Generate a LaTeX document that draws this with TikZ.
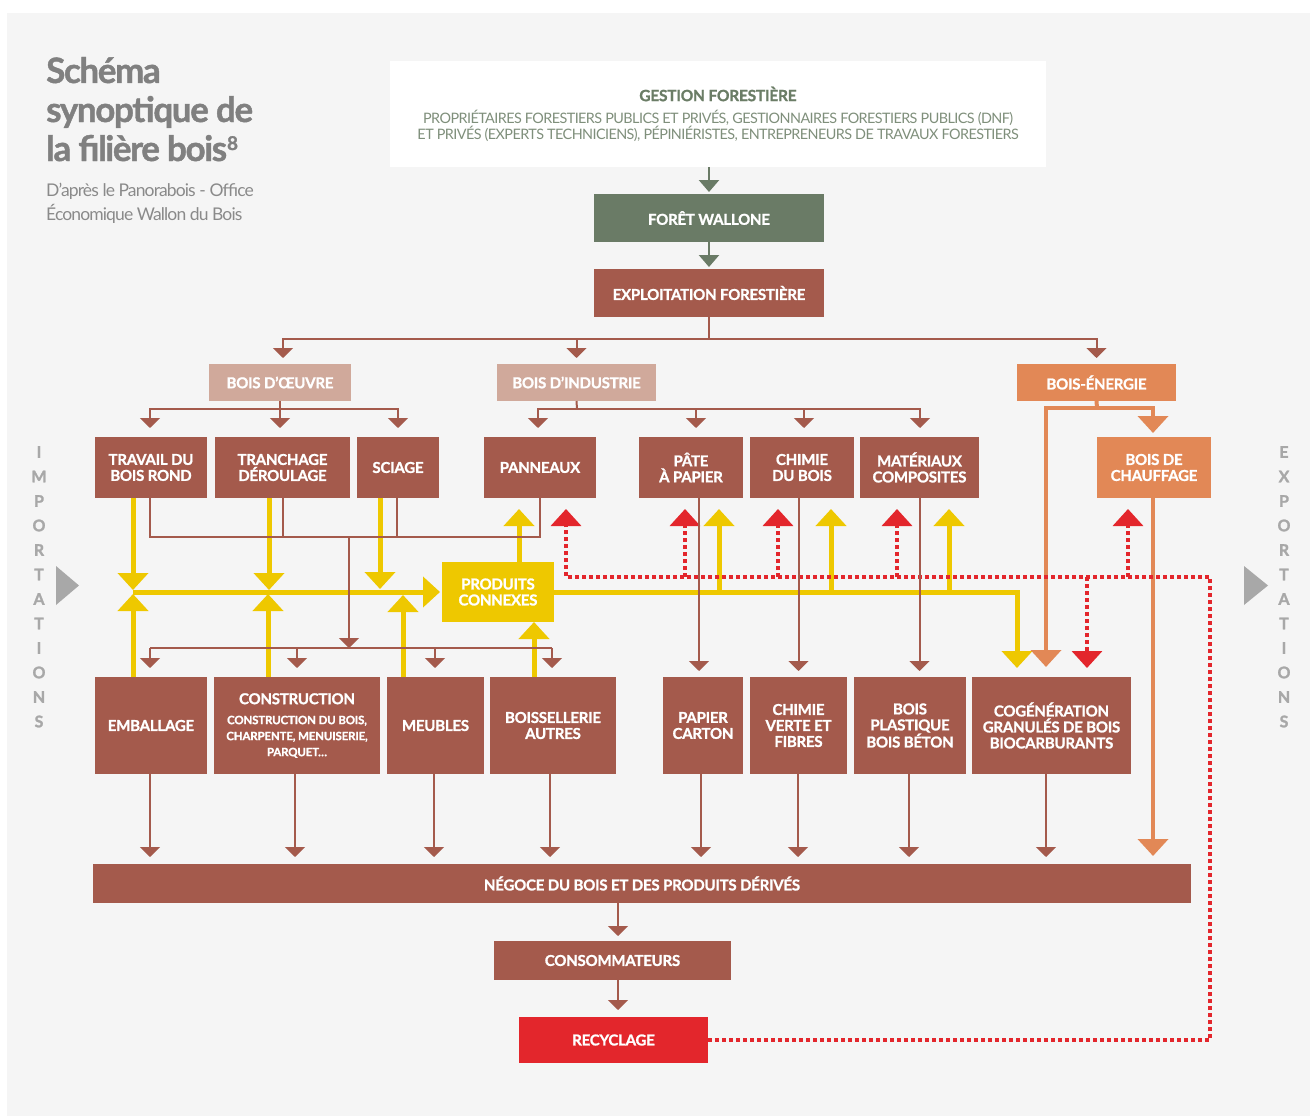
\documentclass[tikz,border=0pt]{standalone}
\usepackage{fontspec}
\setmainfont{Lato}
\newfontfamily\boxfont[LetterSpace=-1.5, BoldFeatures={FakeBold=1.2}]{Lato}
\newfontfamily\titlefont[LetterSpace=-4, BoldFeatures={FakeBold=1.2}]{Lato}
\newfontfamily\subfont[LetterSpace=-5]{Lato}
\newfontfamily\gestfont[LetterSpace=-4]{Lato}
\newfontfamily\sidefont[BoldFeatures={FakeBold=1.5}]{Lato}
\usetikzlibrary{arrows.meta}
\definecolor{cbrown}{HTML}{A45A4C}
\definecolor{cpink}{HTML}{D0A99B}
\definecolor{corange}{HTML}{E28856}
\definecolor{cgreen}{HTML}{6A7B66}
\definecolor{cgreentext}{HTML}{6B7D66}
\definecolor{cgreenlight}{HTML}{7F8F7B}
\definecolor{cyellow}{HTML}{EEC800}
\definecolor{cred}{HTML}{E3262C}
\definecolor{cgray}{HTML}{A8A8A8}
\definecolor{ctitle}{HTML}{808080}
\definecolor{csub}{HTML}{8A8A8A}
\definecolor{cbg}{HTML}{F5F5F5}
\newcommand{\cstsmall}[1]{{\fontsize{11.5}{16}\selectfont #1}}
\tikzset{
  box/.style={draw=none, fill=cbrown, text=white, font=\boxfont\bfseries\fontsize{15}{16}\selectfont, align=center, inner sep=0pt, outer sep=0pt},
  pinkbox/.style={box, fill=cpink},
  orangebox/.style={box, fill=corange},
  greenbox/.style={box, fill=cgreen},
  yellowbox/.style={box, fill=cyellow},
  redbox/.style={box, fill=cred},
  bl/.style={draw=cbrown, line width=2pt},
  ba/.style={bl, -{Triangle[width=20pt,length=10pt]}},
  yl/.style={draw=cyellow, line width=5pt},
  ya/.style={yl, -{Triangle[width=30pt,length=17pt]}},
  rl/.style={draw=cred, line width=3.5pt, dash pattern=on 4pt off 3pt},
  ra/.style={rl, -{Triangle[width=30pt,length=17pt]}},
  ol/.style={draw=corange, line width=4pt},
  oa/.style={ol, -{Triangle[width=30pt,length=17pt]}},
  ga/.style={draw=cgreen, line width=2.5pt, -{Triangle[width=20pt,length=12pt]}},
  sidelet/.style={text=cgray, font=\sidefont\bfseries\fontsize{16}{16}\selectfont, inner sep=0pt},
  titletext/.style={anchor=base west, inner sep=0pt, text=ctitle, font=\titlefont\bfseries\fontsize{35}{39}\selectfont},
  subtext/.style={anchor=base west, inner sep=0pt, text=csub, font=\subfont\fontsize{17.5}{24}\selectfont},
}
\begin{document}
\begin{tikzpicture}[x=1pt,y=-1pt]
\useasboundingbox (0,0) rectangle (1310,1116);
\fill[white] (0,0) rectangle (1310,1116);
\fill[cbg] (7,13) rectangle (1310,1116);

% title
\node[titletext] (t1) at (46,83) {Schéma};
\node[titletext] (t2) at (46,122) {synoptique de};
\node[titletext] (t3) at (46,161) {la filière bois\raisebox{11pt}{\fontsize{19}{19}\selectfont 8}};
\node[subtext] (s1) at (46,196) {D’après le Panorabois - Office};
\node[subtext] (s2) at (46,220) {Économique Wallon du Bois};

% side labels
\foreach \l [count=\i from 0] in {I,M,P,O,R,T,A,T,I,O,N,S}
  \node[sidelet] (imp\i) at (39,452+\i*24.5) {\l};
\foreach \l [count=\i from 0] in {E,X,P,O,R,T,A,T,I,O,N,S}
  \node[sidelet] (exp\i) at (1284,452+\i*24.5) {\l};
\fill[cgray] (56,566) -- (79,585.5) -- (56,605) -- cycle;
\fill[cgray] (1244,566) -- (1268,585.5) -- (1244,605) -- cycle;

% gestion
\node[fill=white, minimum width=656pt, minimum height=106pt, inner sep=0pt] (gest) at (718,114) {};
\node[text=cgreentext, font=\boxfont\bfseries\fontsize{15.5}{16}\selectfont, inner sep=0pt] (gestT) at (718,94) {GESTION FORESTIÈRE};
\node[text=cgreenlight, font=\gestfont\fontsize{14.4}{16}\selectfont, align=center, inner sep=0pt] (gestS) at (718,126) {PROPRIÉTAIRES FORESTIERS PUBLICS ET PRIVÉS, GESTIONNAIRES FORESTIERS PUBLICS (DNF)\\ET PRIVÉS (EXPERTS TECHNICIENS), PÉPINIÉRISTES, ENTREPRENEURS DE TRAVAUX FORESTIERS};

% boxes
\node[greenbox, minimum width=230pt, minimum height=48pt] (foret) at (709,218) {FORÊT WALLONE};
\node[box, minimum width=230pt, minimum height=48pt] (expl) at (709,293) {EXPLOITATION FORESTIÈRE};
\node[pinkbox, minimum width=142pt, minimum height=37pt] (boeuvre) at (280,382.5) {BOIS D’ŒUVRE};
\node[pinkbox, minimum width=159pt, minimum height=37pt] (bind) at (576.5,382.5) {BOIS D’INDUSTRIE};
\node[orangebox, minimum width=159pt, minimum height=37pt] (benerg) at (1096.5,382.5) {BOIS-ÉNERGIE};

\node[box, minimum width=112pt, minimum height=61pt] (travail) at (151,467.5) {TRAVAIL DU\\BOIS ROND};
\node[box, minimum width=135pt, minimum height=61pt] (tranch) at (282.5,467.5) {TRANCHAGE\\DÉROULAGE};
\node[box, minimum width=82pt, minimum height=61pt] (sciage) at (398,467.5) {SCIAGE};
\node[box, minimum width=112pt, minimum height=61pt] (pann) at (540,467.5) {PANNEAUX};
\node[box, minimum width=104pt, minimum height=61pt] (pate) at (691,467.5) {PÂTE\\À PAPIER};
\node[box, minimum width=104pt, minimum height=61pt] (chimie) at (802,467.5) {CHIMIE\\DU BOIS};
\node[box, minimum width=119pt, minimum height=61pt] (mater) at (919.5,467.5) {MATÉRIAUX\\COMPOSITES};
\node[orangebox, minimum width=114pt, minimum height=61pt] (chauff) at (1154,467.5) {BOIS DE\\CHAUFFAGE};

\node[yellowbox, minimum width=112pt, minimum height=60pt] (connexes) at (498,592) {PRODUITS\\CONNEXES};

\node[box, minimum width=112pt, minimum height=97pt] (emball) at (151,725.5) {EMBALLAGE};
\node[box, minimum width=166pt, minimum height=97pt] (constr) at (297,725.5) {CONSTRUCTION\\[4pt]\cstsmall{CONSTRUCTION DU BOIS,}\\\cstsmall{CHARPENTE, MENUISERIE,}\\\cstsmall{PARQUET…}};
\node[box, minimum width=97pt, minimum height=97pt] (meubles) at (435.5,725.5) {MEUBLES};
\node[box, minimum width=126pt, minimum height=97pt] (boiss) at (553,725.5) {BOISSELLERIE\\AUTRES};
\node[box, minimum width=80pt, minimum height=97pt] (papier) at (703,725.5) {PAPIER\\CARTON};
\node[box, minimum width=97pt, minimum height=97pt] (chverte) at (798.5,725.5) {CHIMIE\\VERTE ET\\FIBRES};
\node[box, minimum width=112pt, minimum height=97pt] (plast) at (910,725.5) {BOIS\\PLASTIQUE\\BOIS BÉTON};
\node[box, minimum width=159pt, minimum height=97pt] (cogen) at (1051.5,725.5) {COGÉNÉRATION\\GRANULÉS DE BOIS\\BIOCARBURANTS};

\node[box, minimum width=1098pt, minimum height=39pt] (negoce) at (642,883.5) {NÉGOCE DU BOIS ET DES PRODUITS DÉRIVÉS};
\node[box, minimum width=237pt, minimum height=39pt] (conso) at (612.5,960.5) {CONSOMMATEURS};
\node[redbox, minimum width=189pt, minimum height=46pt] (recyc) at (613.5,1040) {RECYCLAGE};

% green
\draw[ga, shorten >=2pt] (gest.south -| foret.north) -- (foret.north);
\draw[ga, shorten >=2pt] (foret.south) -- (expl.north);

% yellow
\coordinate (yL) at (133,592);
\draw[ya, shorten >=2pt] (yL) -- (connexes.west);
\draw[ya, shorten >=2pt] ([xshift=-18pt]travail.south) -- ([xshift=-18pt]travail.south |- yL);
\draw[ya, shorten >=2pt] ([xshift=-18pt]emball.north) -- ([xshift=-18pt]emball.north |- yL);
\draw[ya, shorten >=2pt] ([xshift=-13.5pt]tranch.south) -- ([xshift=-13.5pt]tranch.south |- yL);
\draw[ya, shorten >=2pt] ([xshift=-29pt]constr.north) -- ([xshift=-29pt]constr.north |- yL);
\draw[ya, shorten >=3pt] ([xshift=-18pt]sciage.south) -- ([xshift=-18pt]sciage.south |- yL);
\draw[ya, shorten >=3pt] ([xshift=-32.5pt]meubles.north) -- ([xshift=-32.5pt]meubles.north |- yL);
\draw[ya] ([xshift=-19pt]boiss.north) -- ([xshift=-19pt]boiss.north |- connexes.south);
\draw[ya, shorten >=11pt] ([xshift=21pt]connexes.north) -- ([xshift=21pt]connexes.north |- pann.south);
\draw[ya, shorten >=9pt] (connexes.east) -| ([xshift=-34.5pt]cogen.north);
\draw[ya, shorten >=11pt] ([xshift=28pt]pate.south |- connexes.east) -- ([xshift=28pt]pate.south);
\draw[ya, shorten >=11pt] ([xshift=29pt]chimie.south |- connexes.east) -- ([xshift=29pt]chimie.south);
\draw[ya, shorten >=11pt] ([xshift=29.5pt]mater.south |- connexes.east) -- ([xshift=29.5pt]mater.south);

% orange
\coordinate (o1) at (1097,408);
\draw[ol] (benerg.south) -- (o1);
\draw[oa, shorten >=4pt] (o1) -| ([xshift=-1pt]chauff.north);
\draw[oa, shorten >=10pt] (o1) -| ([xshift=-5.5pt]cogen.north);
\draw[oa, shorten >=8pt] ([xshift=-1pt]chauff.south) -- ([xshift=-1pt]chauff.south |- negoce.north);

% red dotted
\coordinate (r1) at (1210,1040);
\coordinate (r2) at (1210,577);
\coordinate (r3) at (566,577);
\draw[ra, shorten >=11pt] (recyc.east) -- (r1) -- (r2) -- (r3) -- (r3 |- pann.south);
\draw[ra, shorten >=11pt] ([xshift=-6pt]pate.south |- r3) -- ([xshift=-6pt]pate.south);
\draw[ra, shorten >=11pt] ([xshift=-24pt]chimie.south |- r3) -- ([xshift=-24pt]chimie.south);
\draw[ra, shorten >=11pt] ([xshift=-22.5pt]mater.south |- r3) -- ([xshift=-22.5pt]mater.south);
\draw[ra, shorten >=11pt] ([xshift=-26pt]chauff.south |- r3) -- ([xshift=-26pt]chauff.south);
\draw[ra, shorten >=9pt] ([xshift=35.5pt]cogen.north |- r3) -- ([xshift=35.5pt]cogen.north);

% brown
\coordinate (e1) at (709,339);
\draw[bl] (expl.south) -- (e1);
\draw[ba, shorten >=6pt] (e1) -| ([xshift=3pt]boeuvre.north);
\draw[ba, shorten >=6pt] (e1) -| (bind.north);
\draw[ba, shorten >=6pt] (e1) -| (benerg.north);

\coordinate (b1) at (280,409);
\draw[bl] (boeuvre.south) -- (b1);
\draw[ba, shorten >=9pt] (b1) -| ([xshift=-1pt]travail.north);
\draw[ba, shorten >=9pt] (b1) -| ([xshift=-2.5pt]tranch.north);
\draw[ba, shorten >=9pt] (b1) -| (sciage.north);

\coordinate (i1) at (577,409);
\draw[bl] (bind.south) -- (i1);
\draw[ba, shorten >=9pt] (i1) -| ([xshift=-2pt]pann.north);
\draw[ba, shorten >=9pt] (i1) -| ([xshift=5pt]pate.north);
\draw[ba, shorten >=9pt] (i1) -| ([xshift=2pt]chimie.north);
\draw[ba, shorten >=9pt] (i1) -| ([xshift=0.5pt]mater.north);

\coordinate (c1) at (349,537);
\coordinate (c2) at (349,648);
\draw[bl] ([xshift=-1pt]travail.south) |- (pann.south |- c1) -- (pann.south);
\draw[bl] (tranch.south |- c1) -- (tranch.south);
\draw[bl] ([xshift=-1pt]sciage.south |- c1) -- ([xshift=-1pt]sciage.south);
\draw[ba] (c1) -- (c2);
\draw[bl] ([xshift=-1pt]emball.north |- c2) -- ([xshift=-1pt]boiss.north |- c2);
\draw[ba, shorten >=9pt] ([xshift=-1pt]emball.north |- c2) -- ([xshift=-1pt]emball.north);
\draw[ba, shorten >=9pt] (constr.north |- c2) -- (constr.north);
\draw[ba, shorten >=9pt] ([xshift=-0.5pt]meubles.north |- c2) -- ([xshift=-0.5pt]meubles.north);
\draw[ba, shorten >=9pt] ([xshift=-1pt]boiss.north |- c2) -- ([xshift=-1pt]boiss.north);

\draw[ba, shorten >=6pt] ([xshift=8pt]pate.south) -- ([xshift=8pt]pate.south |- papier.north);
\draw[ba, shorten >=6pt] (chimie.south -| chverte.north) -- (chverte.north);
\draw[ba, shorten >=6pt] (mater.south) -- (mater.south |- plast.north);

\foreach \b/\d in {emball/-1, constr/-2, meubles/-1.5, boiss/-3, papier/-2, chverte/-0.5, plast/-1, cogen/-5.5}
  \draw[ba, shorten >=7pt] ([xshift=\d pt]\b.south) -- ([xshift=\d pt]\b.south |- negoce.north);

\draw[ba, shorten >=5pt] ([xshift=5.5pt]conso.north |- negoce.south) -- ([xshift=5.5pt]conso.north);
\draw[ba, shorten >=7pt] ([xshift=5.5pt]conso.south) -- ([xshift=5.5pt]conso.south |- recyc.north);
\end{tikzpicture}
\end{document}
